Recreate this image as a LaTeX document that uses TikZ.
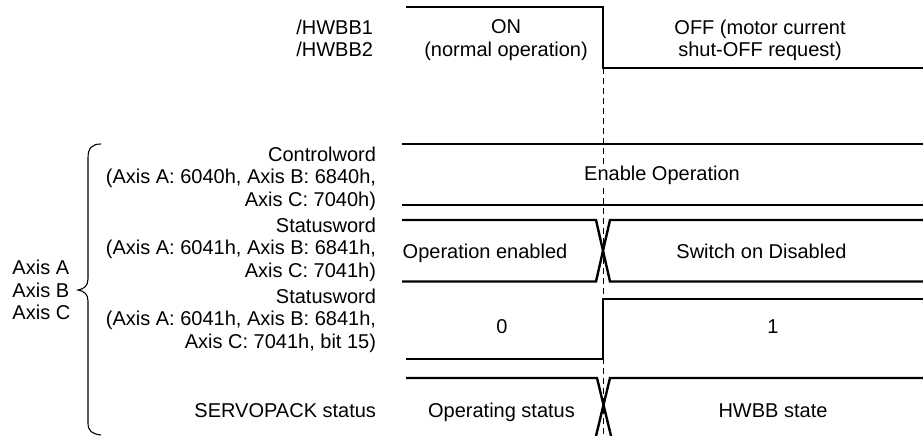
\documentclass[tikz,border=0pt]{standalone}
\usepackage{fontspec}
\setmainfont{Liberation Sans}
\tikzset{
  sig/.style={line width=2.4pt, line join=miter, line cap=butt},
  guide/.style={line width=0.9pt, dash pattern=on 6pt off 4pt},
  bracel/.style={line width=1.1pt},
  lbl/.style={font=\fontsize{20}{22.5}\selectfont, inner sep=0pt, outer sep=0pt},
}
\begin{document}
\begin{tikzpicture}[x=1pt,y=-1pt]
\useasboundingbox (0,0) rectangle (923,436);
\begin{scope}
\clip (0,0) rectangle (923,436);
% dashed timing guide
\coordinate (gtop) at (603,68);
\coordinate (gbot) at (603,436);
\draw[guide] (gtop) -- (gbot);
% /HWBB signal
\draw[sig] (406,7) -- (603,7) -- (603,68) -- (923,68);
% Controlword
\draw[sig] (402,144) -- (923,144);
\draw[sig] (402,205) -- (923,205);
% Statusword
\draw[sig] (402,220) -- (596,220) -- (610,281.5) -- (923,281.5);
\draw[sig] (402,281.5) -- (596,281.5) -- (610,220) -- (923,220);
% Statusword bit 15
\draw[sig] (406,359) -- (603,359) -- (603,299) -- (923,299);
% SERVOPACK status
\draw[sig] (406,378) -- (597,378) -- (612,440);
\draw[sig] (923,378) -- (610,378) -- (595,440);
% brace
\draw[bracel] (101,144) .. controls (92,144) and (88,148) .. (88,158) -- (88,279)
  .. controls (88,286) and (84,289) .. (78,290)
  .. controls (84,291) and (88,294) .. (88,301) -- (88,423)
  .. controls (88,431) and (92,434) .. (101,435);
\end{scope}
% labels
\node[lbl, anchor=north east, align=left] (hwbb) at (373,20) {/HWBB1\\/HWBB2};
\node[lbl, anchor=north, align=center] (on) at (506,20) {ON\\(normal operation)};
\node[lbl, anchor=north, align=center] (off) at (760,20) {OFF (motor current\\shut-OFF request)};
\node[lbl, anchor=base, fill=white, inner sep=2pt] (enable) at (662,180) {Enable Operation};
\node[lbl, anchor=base] (opena) at (485,258) {Operation enabled};
\node[lbl, anchor=base] (swoff) at (761.5,258) {Switch on Disabled};
\node[lbl, anchor=base] (zero) at (502,333) {0};
\node[lbl, anchor=base] (one) at (773,333) {1};
\node[lbl, anchor=base] (opst) at (501.5,417) {Operating status};
\node[lbl, anchor=base] (hwst) at (773,417) {HWBB state};
\node[lbl, anchor=north east, align=right] (cw) at (376,147) {Controlword\\(Axis A: 6040h, Axis B: 6840h,\\Axis C: 7040h)};
\node[lbl, anchor=north east, align=right] (sw) at (376,218) {Statusword\\(Axis A: 6041h, Axis B: 6841h,\\Axis C: 7041h)};
\node[lbl, anchor=north east, align=right] (swb) at (376,289) {Statusword\\(Axis A: 6041h, Axis B: 6841h,\\Axis C: 7041h, bit 15)};
\node[lbl, anchor=base east] (svst) at (376,417) {SERVOPACK status};
\node[lbl, anchor=north west, align=left] (axes) at (12.5,260.5) {Axis A\\Axis B\\Axis C};
\end{tikzpicture}
\end{document}
